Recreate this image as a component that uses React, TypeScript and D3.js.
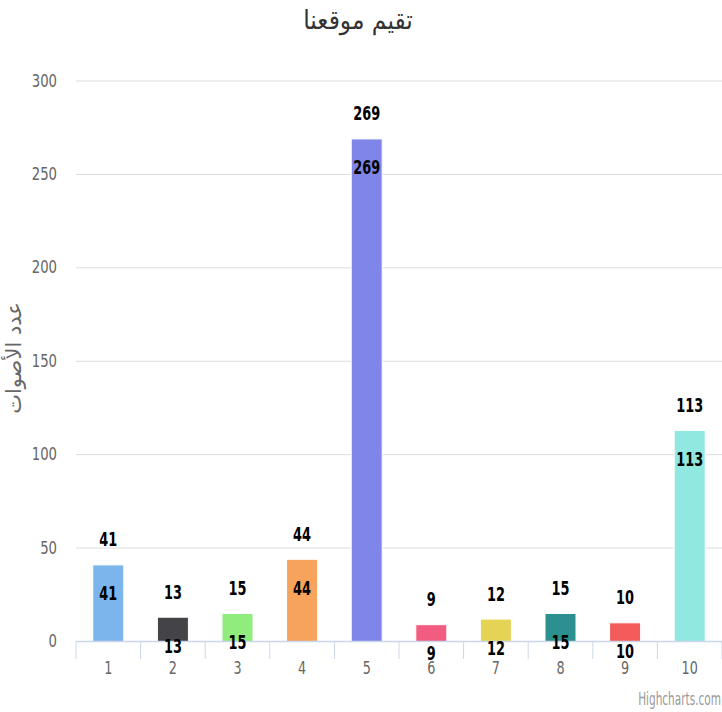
import React from "react";
import * as d3 from "d3";

const categories = ["1", "2", "3", "4", "5", "6", "7", "8", "9", "10"];
const votes = [41, 13, 15, 44, 269, 9, 12, 15, 10, 113];
const colors = ["#7cb5ec", "#434348", "#90ed7d", "#f7a35c", "#8085e9", "#f15c80", "#e4d354", "#2b908f", "#f45b5b", "#91e8e1"];
const yTicks = [0, 50, 100, 150, 200, 250, 300];
const titleText = "تقيم موقعنا";
const yAxisTitle = "عدد الأصوات";
const credit = "Highcharts.com";

const W = 722;
const H = 712;
const left = 76;
const right = 722;
const top = 81;
const bottom = 641.5;
const FONT = "'DejaVu Sans', sans-serif";

function T({ x, y, sx = 0.75, size, anchor = "middle", weight = "normal", fill = "#666", children, rotate = 0 }: any) {
  return (
    <g transform={`translate(${x},${y}) rotate(${rotate}) scale(${sx},1)`}>
      <text
        x={0}
        y={0}
        fontSize={size}
        fontFamily={FONT}
        fontWeight={weight}
        fill={fill}
        textAnchor={anchor}
        dominantBaseline="central"
      >
        {children}
      </text>
    </g>
  );
}

export default function App() {
  const x = d3.scaleBand<string>().domain(categories).range([left, right]).paddingInner(0).paddingOuter(0);
  const y = d3.scaleLinear().domain([0, 300]).range([bottom, top]);
  const bw = x.bandwidth();
  const barW = bw * 0.6 * 0.8;

  return (
    <svg width={W} height={H} style={{ position: "absolute", left: 0, top: 0, background: "#fff" }}>
      <rect x={0} y={0} width={W} height={H} fill="#fff" />
      <T x={358} y={20} size={26} sx={0.9} fill="#333">{titleText}</T>

      {yTicks.map((t) => (
        <g key={t}>
          <line x1={left} x2={right} y1={y(t)} y2={y(t)} stroke="#dcdcdc" strokeWidth={1} />
          <T x={57} y={y(t)} size={17} sx={0.78} anchor="end">{t}</T>
        </g>
      ))}

      <T x={14} y={358} size={21} sx={1} rotate={-90}>{yAxisTitle}</T>

      {votes.map((v, i) => {
        const cx = (x(categories[i]) as number) + bw / 2;
        const yt = y(v);
        return (
          <g key={i}>
            <rect x={cx - barW / 2} y={yt} width={barW} height={bottom - yt} fill={colors[i]} stroke="#fff" strokeWidth={1} />
          </g>
        );
      })}

      <line x1={left} x2={right} y1={bottom} y2={bottom} stroke="#ccd6eb" strokeWidth={1.5} />
      {d3.range(categories.length + 1).map((k) => {
        const tx = left + k * bw;
        return <line key={k} x1={tx} x2={tx} y1={bottom} y2={659} stroke="#ccd6eb" strokeWidth={1} />;
      })}
      {categories.map((c) => (
        <T key={c} x={(x(c) as number) + bw / 2} y={668} size={17} sx={0.75}>{c}</T>
      ))}

      {votes.map((v, i) => {
        const cx = (x(categories[i]) as number) + bw / 2;
        const yt = y(v);
        return (
          <g key={"l" + i}>
            <T x={cx} y={yt - 25} size={19} sx={0.68} weight="bold" fill="#000">{v}</T>
            <T x={cx} y={yt + 29} size={19} sx={0.68} weight="bold" fill="#000">{v}</T>
          </g>
        );
      })}

      <T x={721} y={699} size={17} sx={0.62} anchor="end" fill="#999">{credit}</T>
    </svg>
  );
}
